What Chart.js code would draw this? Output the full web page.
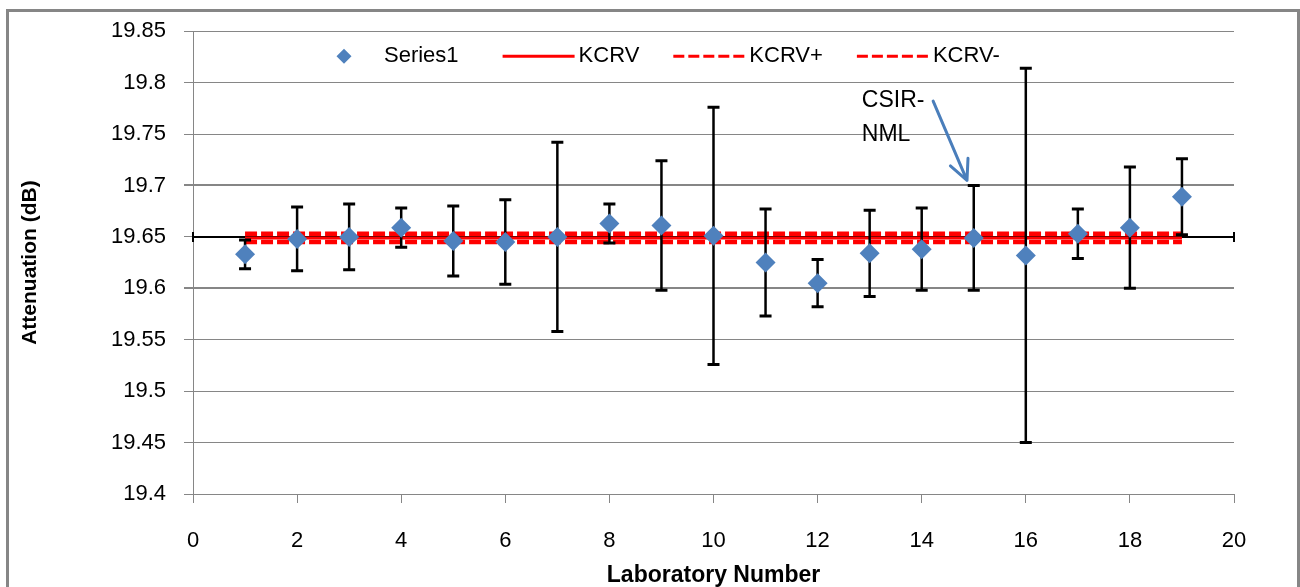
<!DOCTYPE html>
<html>
<head>
<meta charset="utf-8">
<title>Attenuation by laboratory</title>
<script src="https://cdn.jsdelivr.net/npm/chart.js@4.4.0/dist/chart.umd.min.js"></script>
<style>
  html, body { margin: 0; padding: 0; background: #fff; overflow: hidden; }
  #wrap { position: relative; width: 1300px; height: 587px; }
  #frame { position: absolute; left: 6px; top: 9px; width: 1294px; height: 620px;
           border: 3px solid #868686; box-sizing: border-box; }
  #chart { position: absolute; left: 0; top: 0; }
</style>
</head>
<body>
<div id="wrap">
  <div id="frame"></div>
  <canvas id="chart" width="1300" height="587"></canvas>
</div>
<script>
// ============================================
// DADOS
// ============================================
const labNumbers  = [1, 2, 3, 4, 5, 6, 7, 8, 9, 10, 11, 12, 13, 14, 15, 16, 17, 18, 19];
const attenuation = [19.633, 19.648, 19.650, 19.659, 19.646, 19.645, 19.650, 19.663, 19.661, 19.651,
                     19.625, 19.605, 19.634, 19.638, 19.649, 19.632, 19.653, 19.659, 19.689];
const uncertainty = [0.014, 0.031, 0.032, 0.019, 0.034, 0.041, 0.092, 0.019, 0.063, 0.125,
                     0.052, 0.023, 0.042, 0.040, 0.051, 0.182, 0.024, 0.059, 0.037];

const refX       = [1, 19];
const kcrv       = [19.649, 19.649];
const kcrvPlus   = [19.653, 19.653];
const kcrvMinus  = [19.645, 19.645];

// eixo horizontal que cruza em 19.65
const crossX = [0, 20];
const crossY = [19.65, 19.65];

const xTicks = [0, 2, 4, 6, 8, 10, 12, 14, 16, 18, 20];
const yTicks = [19.4, 19.45, 19.5, 19.55, 19.6, 19.65, 19.7, 19.75, 19.8, 19.85];

const noteLines = ['CSIR-', 'NML'];
const noteAt    = [12.85, 19.782];           // texto (x, y)
const arrowFrom = [14.22, 19.782];
const arrowTo   = [14.87, 19.705];

const FONT = "'Liberation Sans', Arial, sans-serif";
Chart.defaults.font.family = FONT;
Chart.defaults.color = '#000';

const toPoints = (xs, ys) => xs.map((x, i) => ({ x, y: ys[i] }));

// ============================================
// PLUGINS
// ============================================

// barras de erro, desenhadas logo antes dos marcadores da Series1
const errorBars = {
  id: 'errorBars',
  beforeDatasetDraw(chart, args) {
    if (args.index !== 0) return;
    const { ctx, scales: { x, y } } = chart;
    ctx.save();
    ctx.strokeStyle = '#000';
    labNumbers.forEach((lab, i) => {
      const px = x.getPixelForValue(lab);
      const top = y.getPixelForValue(attenuation[i] + uncertainty[i]);
      const bot = y.getPixelForValue(attenuation[i] - uncertainty[i]);
      ctx.lineWidth = 2.5;
      ctx.beginPath();
      ctx.moveTo(px, top);
      ctx.lineTo(px, bot);
      ctx.stroke();
      ctx.lineWidth = 3;
      ctx.beginPath();
      ctx.moveTo(px - 6, top); ctx.lineTo(px + 6, top);
      ctx.moveTo(px - 6, bot); ctx.lineTo(px + 6, bot);
      ctx.stroke();
    });
    ctx.restore();
  }
};

// legenda dentro da área do gráfico
const insideLegend = {
  id: 'insideLegend',
  afterDraw(chart) {
    const { ctx, chartArea } = chart;
    const cy = chartArea.top + 25;
    let cx = chartArea.left + 115;
    ctx.save();
    ctx.font = '22px ' + FONT;
    ctx.textBaseline = 'middle';
    chart.data.datasets.slice(0, 4).forEach((ds, i) => {
      if (i === 0) {
        const r = 7.5, mx = cx + 36;
        ctx.fillStyle = ds.backgroundColor;
        ctx.beginPath();
        ctx.moveTo(mx - r, cy); ctx.lineTo(mx, cy - r);
        ctx.lineTo(mx + r, cy); ctx.lineTo(mx, cy + r);
        ctx.closePath();
        ctx.fill();
      } else {
        ctx.strokeStyle = ds.borderColor;
        ctx.lineWidth = 3;
        ctx.setLineDash(ds.borderDash ? [11, 4] : []);
        ctx.beginPath();
        ctx.moveTo(cx, cy); ctx.lineTo(cx + 72, cy);
        ctx.stroke();
        ctx.setLineDash([]);
      }
      ctx.fillStyle = '#000';
      ctx.fillText(ds.label, cx + 76, cy);
      cx += 76 + ctx.measureText(ds.label).width + (i === 0 ? 44 : 34);
    });
    ctx.restore();
  }
};

// anotação CSIR-NML com seta
const csirNote = {
  id: 'csirNote',
  afterDraw(chart) {
    const { ctx, scales: { x, y } } = chart;
    ctx.save();
    ctx.font = '23px ' + FONT;
    ctx.textBaseline = 'middle';
    ctx.fillStyle = '#000';
    noteLines.forEach((t, i) => {
      ctx.fillText(t, x.getPixelForValue(noteAt[0]), y.getPixelForValue(noteAt[1]) + i * 34);
    });
    const x0 = x.getPixelForValue(arrowFrom[0]), y0 = y.getPixelForValue(arrowFrom[1]);
    const x1 = x.getPixelForValue(arrowTo[0]),   y1 = y.getPixelForValue(arrowTo[1]);
    const ang = Math.atan2(y1 - y0, x1 - x0);
    ctx.strokeStyle = '#4a7ebb';
    ctx.lineWidth = 3;
    ctx.lineCap = 'round';
    ctx.beginPath();
    ctx.moveTo(x0, y0); ctx.lineTo(x1, y1);
    [-0.45, 0.45].forEach(d => {
      ctx.moveTo(x1, y1);
      ctx.lineTo(x1 - 22 * Math.cos(ang + d), y1 - 22 * Math.sin(ang + d));
    });
    ctx.stroke();
    ctx.restore();
  }
};

// ============================================
// GRÁFICO
// ============================================
const fmt = v => String(parseFloat(Number(v).toFixed(2)));

new Chart(document.getElementById('chart'), {
  type: 'scatter',
  data: {
    datasets: [
      {
        label: 'Series1',
        data: toPoints(labNumbers, attenuation),
        pointStyle: 'rectRot',
        pointRadius: 10,
        pointHoverRadius: 10,
        backgroundColor: '#4f81bd',
        borderColor: '#4f81bd',
        borderWidth: 0
      },
      {
        label: 'KCRV',
        data: toPoints(refX, kcrv),
        showLine: true,
        borderColor: '#ff0000',
        borderWidth: 3,
        pointRadius: 0
      },
      {
        label: 'KCRV+',
        data: toPoints(refX, kcrvPlus),
        showLine: true,
        borderColor: '#ff0000',
        borderWidth: 4.5,
        borderDash: [12, 4],
        pointRadius: 0
      },
      {
        label: 'KCRV-',
        data: toPoints(refX, kcrvMinus),
        showLine: true,
        borderColor: '#ff0000',
        borderWidth: 4.5,
        borderDash: [12, 4],
        pointRadius: 0
      },
      {
        label: 'axis',
        data: toPoints(crossX, crossY),
        showLine: true,
        borderColor: '#000',
        borderWidth: 2,
        pointStyle: 'line',
        rotation: 90,
        pointRadius: 5,
        pointBorderWidth: 2,
        pointBorderColor: '#000',
        clip: false
      }
    ]
  },
  options: {
    responsive: false,
    animation: false,
    events: [],
    layout: { padding: { left: 0, right: 66, top: 27, bottom: 0 } },
    plugins: {
      legend: { display: false },
      tooltip: { enabled: false }
    },
    scales: {
      x: {
        type: 'linear',
        min: 0,
        max: 20,
        afterBuildTicks: s => { s.ticks = xTicks.map(value => ({ value })); },
        afterFit: s => { s.height = 93; },
        grid: { drawOnChartArea: false, drawTicks: true, tickLength: 9, color: '#868686' },
        border: { color: '#868686', width: 1 },
        ticks: { font: { size: 22 }, padding: 25, maxRotation: 0, callback: v => fmt(v) },
        title: {
          display: true,
          text: 'Laboratory Number',
          font: { size: 23, weight: 'bold', lineHeight: 1 },
          padding: { top: 0, bottom: 0 }
        }
      },
      y: {
        min: 19.4,
        max: 19.85,
        afterBuildTicks: s => { s.ticks = yTicks.map(value => ({ value })); },
        afterFit: s => { s.width = 193; },
        grid: {
          color: '#868686',
          tickLength: 9,
          lineWidth: c => (c.tick && [19.6, 19.7].some(v => Math.abs(c.tick.value - v) < 1e-6)) ? 2 : 1
        },
        border: { color: '#868686', width: 1 },
        ticks: { font: { size: 22 }, padding: 18, callback: v => fmt(v) },
        title: {
          display: true,
          text: 'Attenuation (dB)',
          font: { size: 21, weight: 'bold' },
          padding: { top: 18, bottom: 0 }
        }
      }
    }
  },
  plugins: [errorBars, insideLegend, csirNote]
});
</script>
</body>
</html>
